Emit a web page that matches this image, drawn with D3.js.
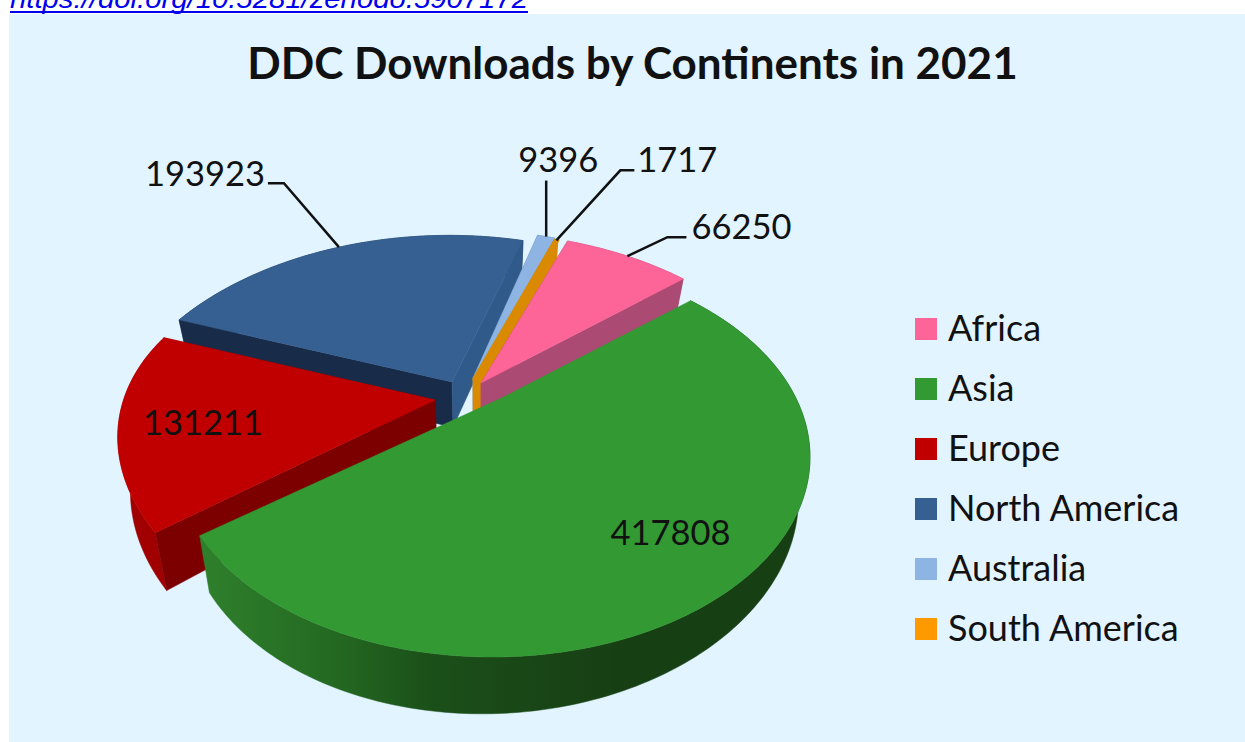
<!DOCTYPE html>
<html>
<head>
<meta charset="utf-8">
<script src="https://cdn.jsdelivr.net/npm/d3@7"></script>
<style>
  html, body { margin: 0; padding: 0; background: #fff; overflow: hidden; }
  svg { display: block; }
  text { font-family: Lato, "Open Sans", sans-serif; fill: #111; }
</style>
</head>
<body>
<svg id="chart" width="1245" height="742"></svg>
<script>
const continents = ["Africa", "Asia", "Europe", "North America", "Australia", "South America"];
const downloads = [66250, 417808, 131211, 193923, 9396, 1717];
const topColors = ["#fd6599", "#339933", "#c00000", "#366092", "#8db4e2", "#ff9900"];
const wallColors = ["#ab4a72", "#1a4a18", "#7c0000", "#182c4a", "#5f86b8", "#d98a00"];
const endWallColors = ["#ab4a72", "#1a4a18", "#7c0000", "#305a8a", "#5f86b8", "#d98a00"];
const drawOrder = [3, 4, 5, 0, 2, 1];
const title = "DDC Downloads by Continents in 2021";
const link = "https://doi.org/10.5281/zenodo.5907172";

// how far each slice is pulled out of the pie, in pixels
const explode = [[-8.5, -5], [12, 10], [-54.5, 12], [-37.5, -6], [-16.5, -10], [-16.5, -8]];
const radius = [1.07, 1, 0.99, 1.04, 1.05, 1.05];
// small per-slice shear [x by y, y by x], the fitted disc is not quite the original's
const skew = [[0, 0], [0, 0], [0.14, 0.012], [-0.05, 0], [0, 0], [0, 0]];

// leader lines: [elbow dx, elbow dy, end dx], measured from the slice rim
const leaders = [
  [40, -19, 59],
  null,
  null,
  [-55, -64, -71],
  [0, -56, 0],
  [64, -70, 78]
];
// where the leader leaves the rim, as a fraction of the slice's sweep
const leaderAt = [0.5, 0, 0, 0.49, 0.5, 0.5];
// label centre, measured from the rim point (leader) or the slice apex (inside)
const labelOffset = [[114, -31], [169, 133], [-232, 21], [-134, -75], [12, -78], [121, -82]];

const width = 1245, height = 742;
const svg = d3.select("#chart");

svg.append("text")
  .attr("x", 10).attr("y", 8)
  .attr("font-size", 27).attr("font-style", "italic")
  .attr("textLength", 518).attr("lengthAdjust", "spacingAndGlyphs")
  .style("font-family", "'Liberation Sans', Arial, sans-serif")
  .style("fill", "#0000ee")
  .text(link);
svg.append("rect").attr("x", 10).attr("y", 11).attr("width", 518).attr("height", 2).attr("fill", "#0000ee");
svg.append("rect").attr("x", 9).attr("y", 14).attr("width", width - 9).attr("height", height - 14).attr("fill", "#e1f4ff");

// the disc is tilted in perspective: a projective map of the unit circle onto an ellipse
const ellipse = { cx: 480, cy: 447, rx: 318, ry: 200 };
const tilt = [0.03, -0.295];
const tiltLen = Math.hypot(tilt[0], tilt[1]);
const tiltDir = [tilt[0] / tiltLen, tilt[1] / tiltLen];
const tiltShrink = Math.sqrt(1 - tiltLen * tiltLen);

function project(u, v) {
  const along = u * tiltDir[0] + v * tiltDir[1];
  const w = 1 + u * tilt[0] + v * tilt[1];
  const perpU = u - along * tiltDir[0];
  const perpV = v - along * tiltDir[1];
  const x = (tilt[0] + along * tiltDir[0] + tiltShrink * perpU) / w;
  const y = (tilt[1] + along * tiltDir[1] + tiltShrink * perpV) / w;
  return [ellipse.cx + x * ellipse.rx, ellipse.cy + y * ellipse.ry];
}

function extrude(p) {
  const depth = 38 + (p[1] - 236) * 0.045 + (480 - p[0]) * 0.02;
  return [p[0] + (480 - p[0]) * 0.035, p[1] + depth];
}

const pie = d3.pie().sort(null).startAngle((20.3 * Math.PI) / 180).endAngle((380.3 * Math.PI) / 180);
const arcs = pie(downloads);
const line = d3.line();

const slices = arcs.map((a, i) => {
  const apex = project(0, 0);
  const at = (angle, r) => {
    const p = project(r * Math.sin(angle), -r * Math.cos(angle));
    const dx = (p[0] - apex[0]) * radius[i];
    const dy = (p[1] - apex[1]) * radius[i];
    return [
      apex[0] + dx + dy * skew[i][0] + explode[i][0],
      apex[1] + dy + dx * skew[i][1] + explode[i][1]
    ];
  };
  const steps = Math.max(2, Math.ceil((a.endAngle - a.startAngle) * 60));
  const rim = d3.range(steps + 1).map(k => at(a.startAngle + ((a.endAngle - a.startAngle) * k) / steps, 1));
  return { i, a, at, apex: at(0, 0), rim };
});

const defs = svg.append("defs");
const sideGrad = defs.append("linearGradient")
  .attr("id", "asiaSide")
  .attr("gradientUnits", "userSpaceOnUse")
  .attr("x1", 205).attr("x2", 620).attr("y1", 0).attr("y2", 0);
[[0, "#2e7f2c"], [0.3, "#246a22"], [0.55, "#1b4f19"], [1, "#173f14"]].forEach(s =>
  sideGrad.append("stop").attr("offset", s[0]).attr("stop-color", s[1]));

const pieGroup = svg.append("g");
const wall = (pts, fill) => pieGroup.append("path")
  .attr("d", line(pts.concat(pts.map(extrude).reverse())) + "Z")
  .attr("fill", fill).attr("stroke", fill).attr("stroke-width", 0.5);

drawOrder.forEach(i => {
  const s = slices[i];
  const first = s.rim[0], last = s.rim[s.rim.length - 1];
  wall(s.rim, i === 1 ? "url(#asiaSide)" : i === 2 ? "#a00000" : wallColors[i]);
  // Asia's cut faces point away from the viewer
  if (i !== 1) {
    wall([s.apex, first], wallColors[i]);
    wall([s.apex, last], endWallColors[i]);
  }
  // the South America sliver is thinner than its outline, so it reads in the darker orange
  const sliver = i === 5;
  pieGroup.append("path")
    .attr("d", line([s.apex].concat(s.rim)) + "Z")
    .attr("fill", sliver ? wallColors[i] : topColors[i])
    .attr("stroke", sliver ? wallColors[i] : topColors[i])
    .attr("stroke-width", sliver ? 2.5 : 0.5);
});

// data labels and leaders
slices.forEach(s => {
  const i = s.i;
  const lead = leaders[i];
  const angle = s.a.startAngle + (s.a.endAngle - s.a.startAngle) * leaderAt[i];
  const base = lead ? s.at(angle, 1) : s.apex;
  if (lead) {
    svg.append("path")
      .attr("d", line([base, [base[0] + lead[0], base[1] + lead[1]], [base[0] + lead[2], base[1] + lead[1]]]))
      .attr("fill", "none").attr("stroke", "#111").attr("stroke-width", 2.5);
  }
  svg.append("text")
    .attr("x", base[0] + labelOffset[i][0])
    .attr("y", base[1] + labelOffset[i][1])
    .attr("text-anchor", "middle")
    .attr("dominant-baseline", "central")
    .attr("font-size", 34.5)
    .text(d3.format("d")(downloads[i]));
});

svg.append("text")
  .attr("x", 632.5).attr("y", 62)
  .attr("text-anchor", "middle")
  .attr("dominant-baseline", "central")
  .attr("font-size", 44).attr("font-weight", 700)
  .text(title);

const legendY = d3.scalePoint().domain(continents).range([329, 629]);
const legend = svg.append("g").selectAll("g").data(continents).join("g")
  .attr("transform", d => `translate(915,${legendY(d)})`);
legend.append("rect")
  .attr("y", -11).attr("width", 22).attr("height", 22)
  .attr("fill", (d, i) => topColors[i]);
legend.append("text")
  .attr("x", 33).attr("y", -2)
  .attr("dominant-baseline", "central")
  .attr("font-size", 36)
  .text(d => d);
</script>
</body>
</html>
